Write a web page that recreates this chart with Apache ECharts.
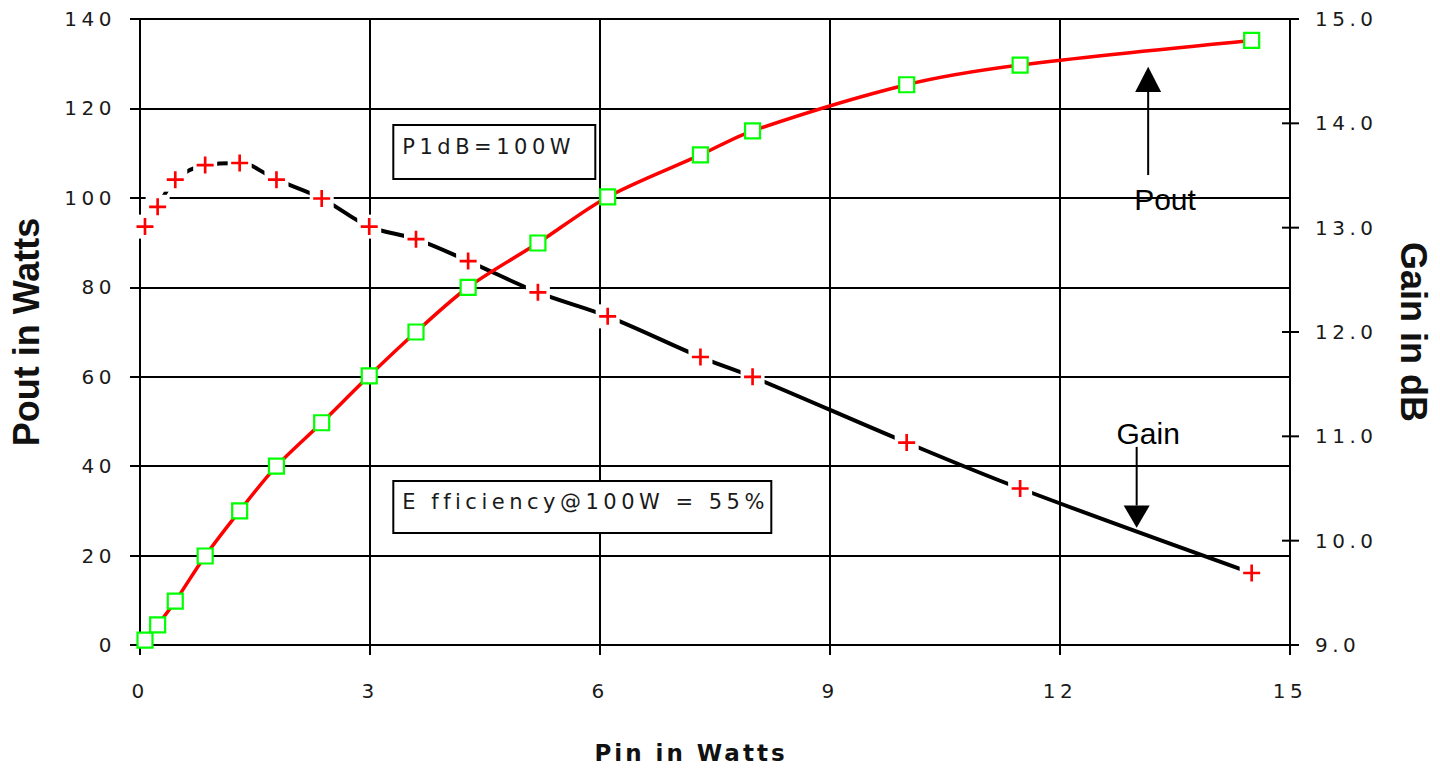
<!DOCTYPE html>
<html>
<head>
<meta charset="utf-8">
<script src="https://cdn.jsdelivr.net/npm/echarts@6/dist/echarts.min.js"></script>
<style>
  html, body { margin: 0; padding: 0; background: #fff; }
  #chart { width: 1440px; height: 771px; }
  /* letter-spaced texts (DejaVu family), tighter for the Verdana-first family */
  text[style*="DejaVu"] { letter-spacing: 4.5px; }
  text[style*="Verdana"] { letter-spacing: 3px; }
</style>
</head>
<body>
<div id="chart"></div>
<script>
// ---- data ----
const pinWatts  = [0.065, 0.23, 0.46, 0.85, 1.30, 1.78, 2.37, 2.99, 3.60, 4.28, 5.19, 6.10, 7.31, 7.99, 10.0, 11.48, 14.5];
const poutWatts = [1.1, 4.5, 9.8, 19.9, 30, 40, 49.7, 60.2, 70, 80, 89.9, 100.2, 109.6, 115, 125.3, 129.7, 135.2];
const gainDb    = [13.01, 13.20, 13.46, 13.60, 13.62, 13.46, 13.28, 13.01, 12.89, 12.68, 12.38, 12.15, 11.76, 11.57, 10.94, 10.50, 9.69];
const xTicks = [0, 3, 6, 9, 12, 15];
const leftTicks = [0, 20, 40, 60, 80, 100, 120, 140];
const rightTicks = [9, 10, 11, 12, 13, 14, 15];
const boxTexts = ['P1dB=100W', 'E fficiency@100W = 55%'];

const poutData = pinWatts.map((x, i) => [x, poutWatts[i]]);
const gainData = pinWatts.map((x, i) => [x, gainDb[i]]);
const xMax = xTicks[xTicks.length - 1];
const rightTickData = rightTicks.map(v => [xMax, v]);

const chart = echarts.init(document.getElementById('chart'), null, { renderer: 'svg' });
const black = '#000';
const tickFont = { fontFamily: 'DejaVu Sans', fontSize: 20, color: '#1a1a1a' };
const plusPath = 'path://M6.75,0H9.25V16H6.75Z M0,6.75H16V9.25H0Z';

chart.setOption({
  animation: false,
  backgroundColor: '#fff',
  grid: { left: 137, right: 150, top: 19, bottom: 126, containLabel: false },
  xAxis: {
    type: 'value', min: xTicks[0], max: xMax, interval: 3,
    name: 'Pin in Watts', nameLocation: 'middle', nameGap: 96,
    nameTextStyle: { fontFamily: 'Verdana, DejaVu Sans', fontWeight: 'bold', fontSize: 23, color: '#111', padding: [0, 48, 0, 0] },
    axisLine: { show: true, onZero: false, lineStyle: { color: black, width: 2 } },
    axisTick: { show: true, length: 10, lineStyle: { color: black, width: 2 } },
    splitLine: { show: true, lineStyle: { color: black, width: 2 } },
    axisLabel: Object.assign({ margin: 36 }, tickFont)
  },
  yAxis: [
    {
      type: 'value', min: leftTicks[0], max: leftTicks[leftTicks.length - 1], interval: 20,
      name: 'Pout in Watts', nameLocation: 'middle', nameGap: 96,
      nameTextStyle: { fontFamily: 'Liberation Sans', fontWeight: 'bold', fontSize: 36, color: '#111' },
      axisLine: { show: true, onZero: false, lineStyle: { color: black, width: 2 } },
      axisTick: { show: true, length: 10, lineStyle: { color: black, width: 2 } },
      splitLine: { show: true, lineStyle: { color: black, width: 2 } },
      axisLabel: Object.assign({ margin: 24 }, tickFont)
    },
    {
      type: 'value', position: 'right',
      min: rightTicks[0], max: rightTicks[rightTicks.length - 1], interval: 1,
      name: 'Gain in dB', nameLocation: 'middle', nameGap: 105, nameRotate: -90,
      nameTextStyle: { fontFamily: 'Liberation Sans', fontWeight: 'bold', fontSize: 36, color: '#111' },
      axisLine: { show: true, onZero: false, lineStyle: { color: black, width: 2 } },
      axisTick: { show: false },
      splitLine: { show: false },
      axisLabel: Object.assign({ margin: 25, formatter: v => v.toFixed(1) }, tickFont)
    }
  ],
  series: [
    {
      name: 'Right ticks', type: 'custom', yAxisIndex: 1, data: rightTickData, silent: true, z: 1,
      clip: false,
      renderItem: (params, api) => {
        const c = api.coord([api.value(0), api.value(1)]);
        return { type: 'line', shape: { x1: c[0] - 8, y1: c[1], x2: c[0] + 9, y2: c[1] }, style: { stroke: black, lineWidth: 2 } };
      }
    },
    {
      name: 'Gain line', type: 'line', yAxisIndex: 1, data: gainData, smooth: 0.35,
      showSymbol: false, symbol: 'none', z: 2,
      lineStyle: { color: black, width: 4 }
    },
    {
      name: 'Gain backing', type: 'scatter', yAxisIndex: 1, data: gainData,
      symbol: 'rect', symbolSize: 24, z: 3, silent: true,
      itemStyle: { color: '#fff', opacity: 1 }
    },
    {
      name: 'Gain', type: 'scatter', yAxisIndex: 1, data: gainData,
      symbol: plusPath, symbolSize: 17, z: 4,
      itemStyle: { color: '#ff0000', opacity: 1 }
    },
    {
      name: 'Pout', type: 'line', yAxisIndex: 0, data: poutData, smooth: 0.3,
      symbol: 'rect', symbolSize: 15, showSymbol: true, z: 5,
      lineStyle: { color: '#ff0000', width: 3.5 },
      itemStyle: { color: '#fff', borderColor: '#00ff00', borderWidth: 2.2, opacity: 1 }
    }
  ]
});

// ---- annotations anchored in data coordinates ----
const P = (x, y) => chart.convertToPixel({ xAxisIndex: 0, yAxisIndex: 0 }, [x, y]);
const poutArrow = { x: 13.15, tail: 105.1, head: 123.7, tip: 129.3, labelX: 13.37, labelY: 99.7 };
const gainArrow = { x: 13.0, tail: 44.3, head: 31.2, tip: 26.2, labelX: 13.15, labelY: 47.4 };
const boxAnchors = [[3.304, 116.3, 202, 54], [3.304, 36.68, 378, 52]];

function arrow(a, label) {
  const t = P(a.x, a.tail), h = P(a.x, a.head), tip = P(a.x, a.tip), lab = P(a.labelX, a.labelY);
  return [
    { type: 'line', z: 20, shape: { x1: t[0], y1: t[1], x2: h[0], y2: h[1] }, style: { stroke: black, lineWidth: 2 } },
    { type: 'polygon', z: 20, shape: { points: [[tip[0], tip[1]], [h[0] - 13, h[1]], [h[0] + 13, h[1]]] }, style: { fill: black } },
    { type: 'text', z: 20, x: lab[0], y: lab[1], style: { text: label, fontFamily: 'Liberation Sans', fontSize: 30, fill: black, align: 'center', verticalAlign: 'middle' } }
  ];
}
const graphics = [].concat(arrow(poutArrow, 'Pout'), arrow(gainArrow, 'Gain'));
boxAnchors.forEach((b, i) => {
  const p = P(b[0], b[1]);
  graphics.push({ type: 'rect', z: 20, shape: { x: p[0], y: p[1], width: b[2], height: b[3] }, style: { fill: '#fff', stroke: black, lineWidth: 2 } });
  graphics.push({ type: 'text', z: 21, x: p[0] + 9, y: p[1] + b[3] / 2 - 5, style: { text: boxTexts[i], fontFamily: 'DejaVu Sans', fontSize: 21, fill: '#1a1a1a', align: 'left', verticalAlign: 'middle' } });
});
chart.setOption({ graphic: graphics });
</script>
</body>
</html>
